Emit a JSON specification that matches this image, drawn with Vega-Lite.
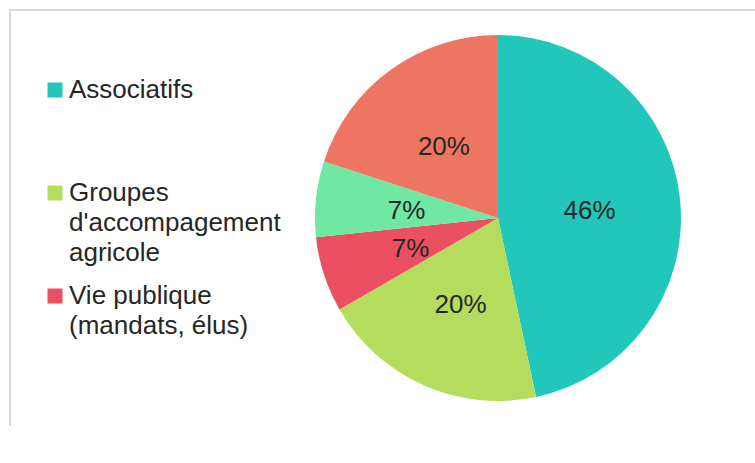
{
  "$schema": "https://vega.github.io/schema/vega-lite/v6.json",
  "width": 976,
  "height": 416,
  "autosize": {"type": "none"},
  "padding": {"left": 10, "top": 10, "right": 0, "bottom": 0},
  "background": "white",
  "view": {"stroke": "#d9d9d9", "strokeWidth": 2, "strokeDash": [1392, 976]},
  "config": {
    "style": {"guide-label": {"dy": 8, "lineHeight": 30}}
  },
  "data": {
    "values": [
      {"category": "Associatifs", "count": 7, "label": "46%", "order": 1},
      {"category": "Groupes d'accompagement agricole", "count": 3, "label": "20%", "order": 2},
      {"category": "Vie publique (mandats, élus)", "count": 1, "label": "7%", "order": 3},
      {"category": "Syndicaux", "count": 1, "label": "7%", "order": 4},
      {"category": "Autres", "count": 3, "label": "20%", "order": 5}
    ]
  },
  "encoding": {
    "theta": {"field": "count", "type": "quantitative", "stack": true},
    "order": {"field": "order", "type": "quantitative"}
  },
  "layer": [
    {
      "mark": {"type": "arc", "outerRadius": 183, "stroke": null},
      "encoding": {
        "color": {
          "field": "category",
          "type": "nominal",
          "sort": ["Associatifs", "Groupes d'accompagement agricole", "Vie publique (mandats, élus)", "Syndicaux", "Autres"],
          "scale": {
            "domain": ["Associatifs", "Groupes d'accompagement agricole", "Vie publique (mandats, élus)", "Syndicaux", "Autres"],
            "range": ["#22c7bb", "#b4dd5d", "#ea5061", "#6ee8a2", "#ee7561"]
          },
          "legend": {
            "orient": "none",
            "legendX": 32,
            "legendY": 67,
            "title": null,
            "values": ["Associatifs", "Groupes d'accompagement agricole", "Vie publique (mandats, élus)"],
            "symbolType": "square",
            "symbolSize": 225,
            "symbolStrokeWidth": 0,
            "symbolOpacity": 1,
            "labelFont": "Liberation Sans",
            "labelFontSize": 26,
            "labelColor": "#262626",
            "labelBaseline": "alphabetic",
            "labelOffset": 1,
            "labelLimit": 0,
            "gridAlign": "all",
            "rowPadding": 17,
            "padding": 0,
            "labelExpr": "datum.value == 'Associatifs' ? 'Associatifs' : datum.value == 'Vie publique (mandats, élus)' ? ['Vie publique', '(mandats, élus)'] : ['Groupes', \"d'accompagement\", 'agricole']"
          }
        }
      }
    },
    {
      "mark": {"type": "text", "radius": 92, "font": "Liberation Sans", "fontSize": 26, "fill": "#262626", "dy": 3},
      "encoding": {"text": {"field": "label", "type": "nominal"}}
    }
  ]
}
